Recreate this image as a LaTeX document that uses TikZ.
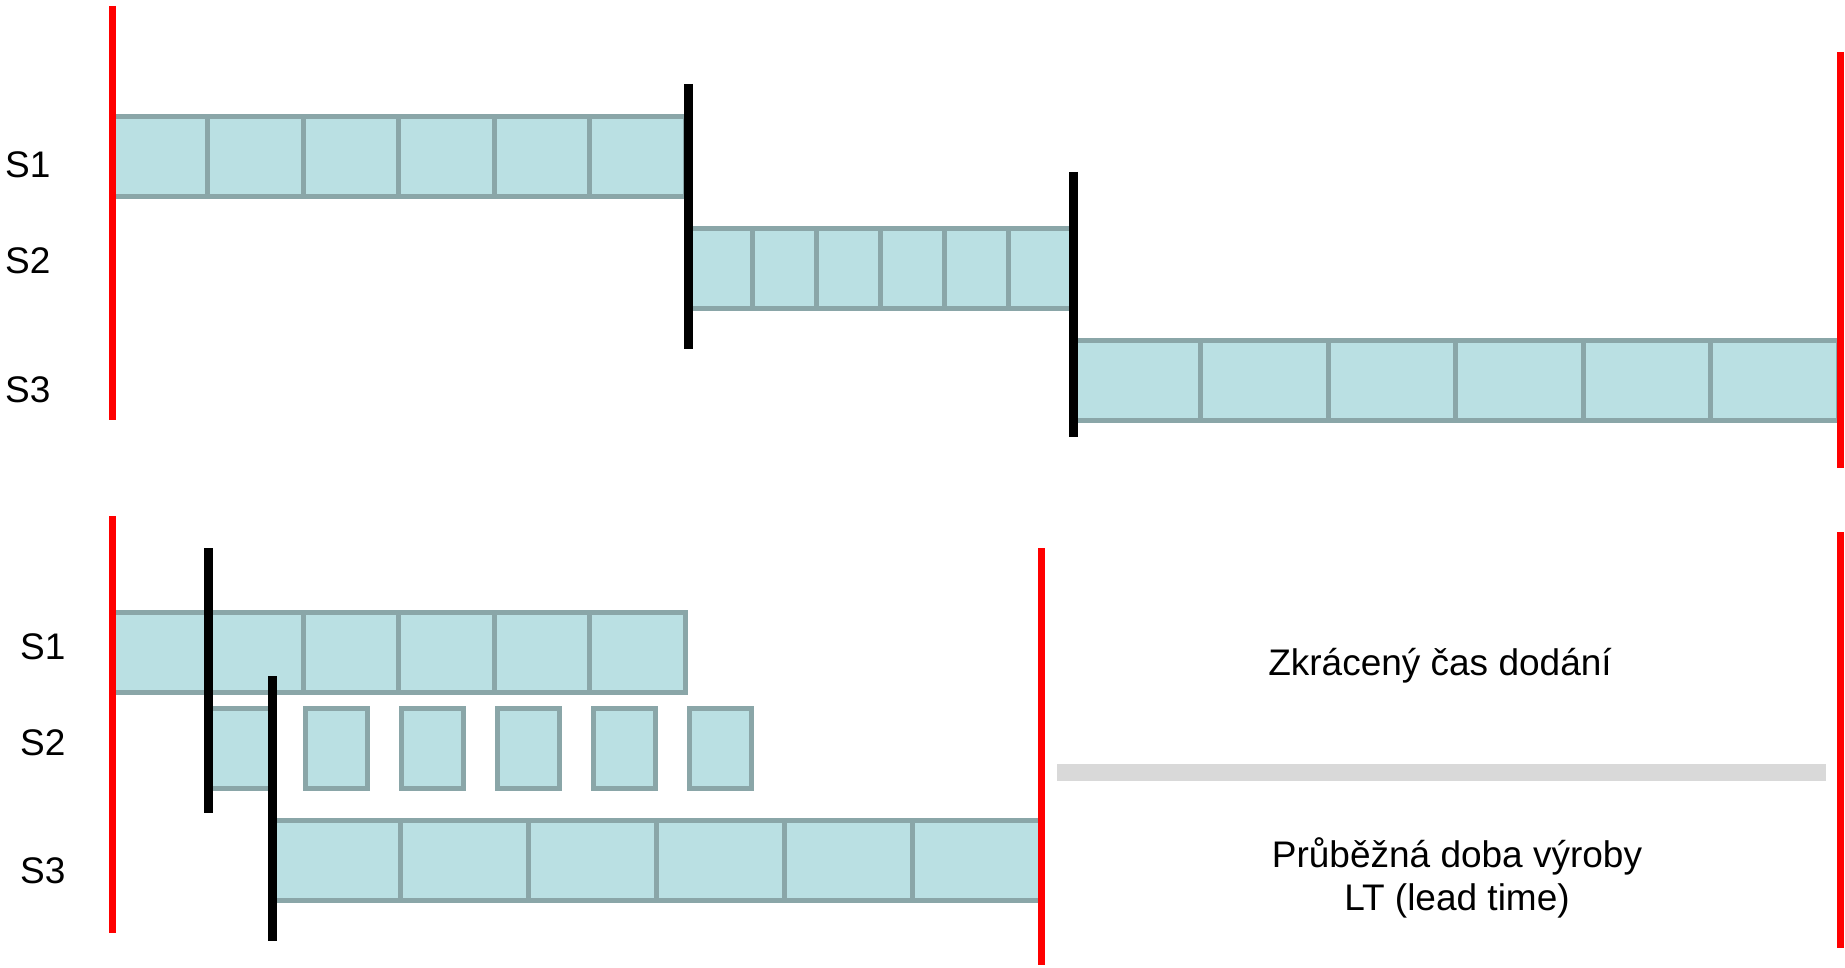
\documentclass[tikz,border=0pt]{standalone}
\usepackage{fontspec}
\setmainfont{Liberation Sans}
\definecolor{cellfill}{RGB}{186,224,227}
\definecolor{cellline}{RGB}{138,166,168}
\definecolor{sepgray}{RGB}{217,217,217}
\begin{document}
\begin{tikzpicture}[x=1pt,y=-1pt,
  cell/.style={fill=cellfill,draw=cellline,line width=5pt},
  redline/.style={draw=red,line width=7pt},
  blackline/.style={draw=black,line width=9pt},
  lbl/.style={anchor=base west,inner sep=0pt,font=\fontsize{37}{43}\selectfont},
  txt/.style={anchor=base,inner sep=0pt,font=\fontsize{37}{43}\selectfont}]
\useasboundingbox (0,0) rectangle (1845,968);
% ---------- top: sequential ----------
\foreach \k in {0,...,5}{
  \draw[cell] ({112+95.5*\k},116.5) rectangle ({112+95.5*(\k+1)},196.5);
  \draw[cell] ({688+64.17*\k},228.5) rectangle ({688+64.17*(\k+1)},308.5);
  \draw[cell] ({1073+127.5*\k},340.5) rectangle ({1073+127.5*(\k+1)},420.5);
}
\coordinate (rt1) at (112,6);   \coordinate (rb1) at (112,420);
\coordinate (bt1) at (688.5,84); \coordinate (bb1) at (688.5,349);
\coordinate (bt2) at (1073,172); \coordinate (bb2) at (1073,437);
\coordinate (rt2) at (1840,52);  \coordinate (rb2) at (1840,468);
\draw[redline] (rt1) -- (rb1);
\draw[blackline] (bt1) -- (bb1);
\draw[blackline] (bt2) -- (bb2);
\draw[redline] (rt2) -- (rb2);
\node[lbl] (ts1) at (5,178) {S1};
\node[lbl] (ts2) at (5,274) {S2};
\node[lbl] (ts3) at (5,402) {S3};
% ---------- bottom: overlapped ----------
\foreach \k in {0,...,5}{
  \draw[cell] ({112+95.5*\k},612.5) rectangle ({112+95.5*(\k+1)},692.5);
  \draw[cell] ({272+128*\k},820.5) rectangle ({272+128*(\k+1)},900.5);
}
\draw[cell] (208,708.5) rectangle (272,788.5);
\foreach \k in {0,...,4}{
  \draw[cell] ({305.5+96*\k},708.5) rectangle ({367.5+96*\k},788.5);
}
\coordinate (rt3) at (112,516);  \coordinate (rb3) at (112,933);
\coordinate (bta) at (208,548);  \coordinate (bba) at (208,813);
\coordinate (btb) at (272,676);  \coordinate (bbb) at (272,941);
\coordinate (rt4) at (1041,548); \coordinate (rb4) at (1041,965);
\coordinate (rt5) at (1840,532); \coordinate (rb5) at (1840,948);
\draw[redline] (rt3) -- (rb3);
\draw[blackline] (bta) -- (bba);
\draw[blackline] (btb) -- (bbb);
\draw[redline] (rt4) -- (rb4);
\draw[redline] (rt5) -- (rb5);
\fill[sepgray] (1057,764) rectangle (1826,781);
\node[lbl] (bs1) at (20,659) {S1};
\node[lbl] (bs2) at (20,755) {S2};
\node[lbl] (bs3) at (20,883) {S3};
\node[txt] (zkr) at (1440,675) {Zkrácený čas dodání};
\node[txt] (lt1) at (1457,867) {Průběžná doba výroby};
\node[txt] (lt2) at (1457,910) {LT (lead time)};
\end{tikzpicture}
\end{document}
